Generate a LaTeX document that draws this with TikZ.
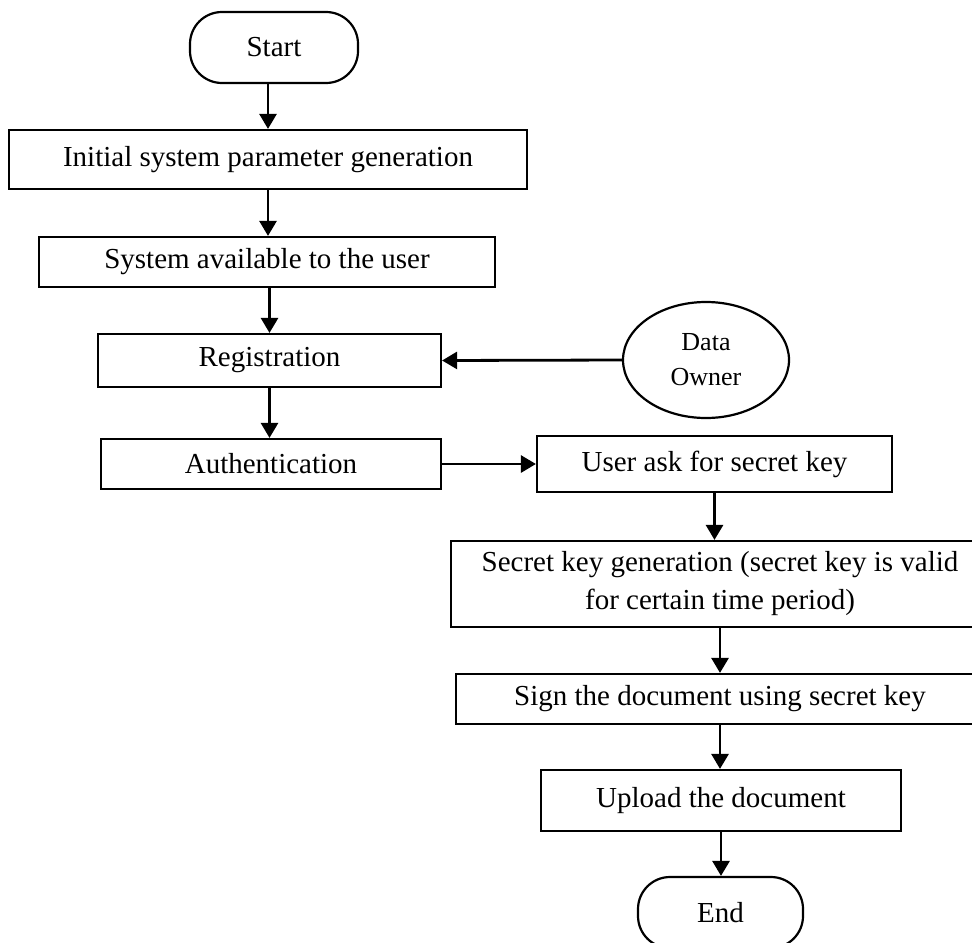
\documentclass[tikz,border=0pt]{standalone}
\usepackage{fontspec}
\setmainfont{Liberation Serif}
\usepackage{tikz}
\usetikzlibrary{arrows.meta}
\usetikzlibrary{shapes.geometric}

\begin{document}
\begin{tikzpicture}[x=0.5pt, y=-0.5pt,
		box/.style={draw, line width=1.1pt, inner sep=0pt, align=center,
			font=\fontsize{14.5}{19}\selectfont},
		terminal/.style={box, rounded corners=16pt},
		owner/.style={draw, ellipse, line width=1.1pt, inner sep=0pt, align=center,
			font=\fontsize{13}{17.5}\selectfont},
		flow/.style={line width=1.4pt, -{Triangle[width=8.5pt,length=7.5pt]}}]
	\useasboundingbox (0,0) rectangle (972,942);
	% Left column
	\node[terminal, minimum width=84pt, minimum height=35.5pt] (start) at (274,47.5) {Start};
	\node[box, minimum width=259pt, minimum height=29.5pt] (init) at (268,159.5) {Initial system parameter generation};
	\node[box, minimum width=228pt, minimum height=25pt] (system) at (267,262) {System available to the user};
	\node[box, minimum width=171.5pt, minimum height=26.5pt] (reg) at (269.5,360.5) {Registration};
	\node[box, minimum width=170pt, minimum height=25pt] (auth) at (271,464) {Authentication};
	% Data owner
	\node[owner, minimum width=83pt, minimum height=58pt] (owner) at (706,360) {Data\\Owner};
	% Right column
	\node[box, minimum width=177.5pt, minimum height=28pt] (user) at (714.5,464) {User ask for secret key};
	\node[box, minimum width=269pt, minimum height=43pt] (secret) at (720,584)
		{Secret key generation (secret key is valid\\for certain time period)};
	\node[box, minimum width=264pt, minimum height=25pt] (sign) at (720,699) {Sign the document using secret key};
	\node[box, minimum width=180pt, minimum height=30.5pt] (upload) at (721,800.5) {Upload the document};
	\node[terminal, minimum width=82.5pt, minimum height=35.5pt] (end) at (720.5,912.5) {End};

	% Arrows
	\draw[flow] (start.south -| init.north) -- (init.north);
	\draw[flow] (init.south) -- (init.south |- system.north);
	\draw[flow] (system.south -| reg.north) -- (reg.north);
	\draw[flow] (reg.south) -- (reg.south |- auth.north);
	\draw[flow] (owner.west) -- (reg.east);
	\draw[flow] (auth.east) -- (user.west);
	\draw[flow] (user.south) -- (user.south |- secret.north);
	\draw[flow] (secret.south) -- (secret.south |- sign.north);
	\draw[flow] (sign.south) -- (sign.south |- upload.north);
	\draw[flow] (upload.south) -- (upload.south |- end.north);
\end{tikzpicture}
\end{document}
